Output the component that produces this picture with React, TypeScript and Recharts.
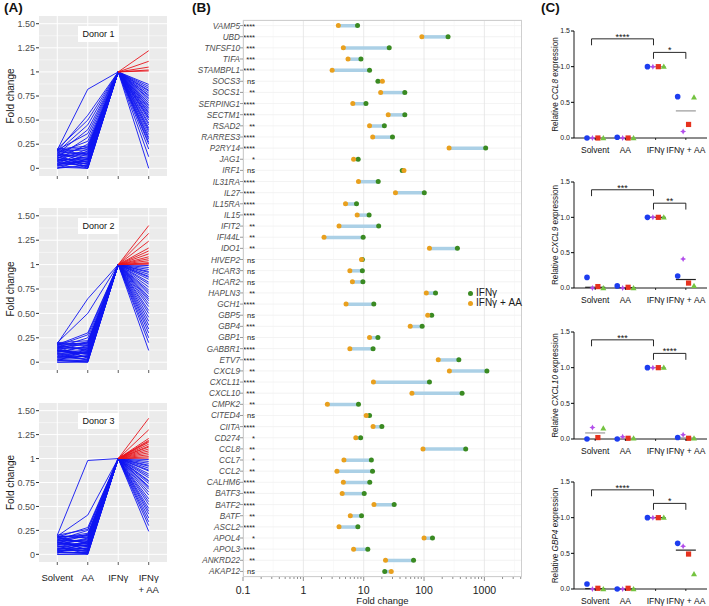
import React from 'react';
import {
  LineChart,
  Line,
  ComposedChart,
  Bar,
  ScatterChart,
  Scatter,
  XAxis,
  YAxis,
  CartesianGrid,
  ReferenceLine,
} from 'recharts';

const FONT = '"Liberation Sans", Arial, Helvetica, sans-serif';

// ---------- (A) fold change per gene, normalised to IFNγ ----------
const STAGES = ['Solvent', 'AA', 'IFNγ', 'IFNγ\n+ AA'];
const IFN_LEVEL = 1;
const A_TICKS = [0, 0.25, 0.5, 0.75, 1, 1.25, 1.5];
const A_TICK_LABELS = ['0', '0.25', '0.50', '0.75', '1', '1.25', '1.50'];
const A_MINOR = [0.125, 0.375, 0.625, 0.875, 1.125, 1.375];

const D1_SOLVENT = [0.19, 0.18, 0.2, 0.17, 0.15, 0.19, 0.12, 0.16, 0.1, 0.14, 0.08, 0.18, 0.05, 0.11, 0.03, 0.13, 0.07, 0, 0.09, 0.02, 0.16, 0.04, 0.12, 0.06, 0.01, 0.14, 0.1, 0, 0.08, 0.17, 0.05, 0.19, 0.13, 0.03, 0.09, 0.2, 0.15, 0.11, 0.07, 0.18, 0.04];
const D1_AA = [0.82, 0.55, 0.5, 0.45, 0.4, 0.36, 0.32, 0.28, 0.25, 0.22, 0.2, 0.19, 0.18, 0.16, 0.15, 0.13, 0.12, 0.1, 0.09, 0.08, 0.06, 0.05, 0.04, 0.02, 0, 0.01, 0, 0.03, 0.11, 0.14, 0.07, 0.21, 0.17, 0, 0.04, 0.23, 0.1, 0.06, 0.02, 0.15, 0.09];
const D1_IFN_AA = [0.87, 0.83, 0.8, 0.78, 0.75, 0.72, 0.7, 0.68, 0.65, 0.62, 0.6, 0.58, 0.55, 0.52, 0.5, 0.47, 0.45, 0.42, 0.4, 0.38, 0.35, 0.32, 0.3, 0.27, 0.25, 0.2, 0.12, 0, 0.85, 0.81, 0.76, 0.73, 0.66, 0.63, 0.57, 0.53, 1.22, 1.11, 1.05, 1.02, 1.01];

const D2_SOLVENT = [0.19, 0.2, 0.18, 0.17, 0.15, 0.2, 0.12, 0.16, 0.1, 0.14, 0.08, 0.18, 0.05, 0.11, 0.03, 0.13, 0.07, 0, 0.09, 0.02, 0.16, 0.04, 0.12, 0.06, 0.01, 0.19, 0.1, 0, 0.14, 0.08, 0.17, 0.05, 0.13, 0.19, 0.09, 0.02, 0.15, 0.11, 0.06, 0.18, 0.03, 0.12];
const D2_AA = [0.65, 0.5, 0.3, 0.28, 0.25, 0.22, 0.2, 0.18, 0.17, 0.15, 0.13, 0.12, 0.1, 0.08, 0.07, 0.05, 0.03, 0.01, 0.02, 0, 0.04, 0.06, 0.09, 0.11, 0.14, 0.19, 0.16, 0, 0.21, 0.1, 0.12, 0.03, 0.08, 0.17, 0.05, 0.02, 0.14, 0.09, 0.06, 0.2, 0.01, 0.11];
const D2_IFN_AA = [0.99, 0.97, 0.93, 0.9, 0.88, 0.85, 0.8, 0.77, 0.74, 0.7, 0.67, 0.63, 0.6, 0.57, 0.53, 0.5, 0.46, 0.42, 0.38, 0.34, 0.3, 0.25, 0.2, 0.12, 0.95, 0.92, 0.87, 0.82, 0.72, 0.65, 1.4, 1.32, 1.24, 1.17, 1.14, 1.11, 1.08, 1.06, 1.04, 1.02, 1.01, 1.005];

const D3_SOLVENT = [0.2, 0.19, 0.18, 0.2, 0.15, 0.17, 0.12, 0.16, 0.1, 0.14, 0.08, 0.18, 0.05, 0.11, 0.03, 0.13, 0.07, 0, 0.09, 0.02, 0.16, 0.04, 0.12, 0.06, 0.01, 0.19, 0.1, 0, 0.14, 0.17, 0.05, 0.13, 0.19, 0.09, 0.02, 0.15, 0.11, 0.06, 0.18, 0.03, 0.12, 0.08, 0.14, 0.04];
const D3_AA = [0.98, 0.41, 0.28, 0.26, 0.25, 0.22, 0.2, 0.18, 0.17, 0.15, 0.13, 0.11, 0.1, 0.08, 0.06, 0.05, 0.03, 0.01, 0, 0.02, 0.04, 0.07, 0.09, 0.12, 0.14, 0.19, 0.16, 0, 0.21, 0.12, 0.03, 0.08, 0.17, 0.05, 0.02, 0.14, 0.09, 0.06, 0.2, 0.01, 0.11, 0.1, 0.13, 0.04];
const D3_IFN_AA = [0.99, 0.95, 0.92, 0.9, 0.87, 0.84, 0.8, 0.77, 0.74, 0.71, 0.68, 0.65, 0.62, 0.58, 0.55, 0.52, 0.48, 0.45, 0.42, 0.38, 0.34, 0.3, 0.24, 0.97, 0.93, 0.88, 0.82, 0.76, 0.7, 1.42, 1.3, 1.21, 1.19, 1.18, 1.17, 1.15, 1.13, 1.12, 1.1, 1.08, 1.06, 1.04, 1.02, 1.005];

// ---------- (B) IFNγ vs IFNγ + AA, fold change ----------
const GENES = ['VAMP5', 'UBD', 'TNFSF10', 'TIFA', 'STAMBPL1', 'SOCS3', 'SOCS1', 'SERPING1', 'SECTM1', 'RSAD2', 'RARRES3', 'P2RY14', 'JAG1', 'IRF1', 'IL31RA', 'IL27', 'IL15RA', 'IL15', 'IFIT2', 'IFI44L', 'IDO1', 'HIVEP2', 'HCAR3', 'HCAR2', 'HAPLN3', 'GCH1', 'GBP5', 'GBP4', 'GBP1', 'GABBR1', 'ETV7', 'CXCL9', 'CXCL11', 'CXCL10', 'CMPK2', 'CITED4', 'CIITA', 'CD274', 'CCL8', 'CCL7', 'CCL2', 'CALHM6', 'BATF3', 'BATF2', 'BATF', 'ASCL2', 'APOL4', 'APOL3', 'ANKRD22', 'AKAP12'];
const SIG = ['****', '****', '***', '***', '****', 'ns', '**', '****', '****', '**', '****', '****', '*', 'ns', '****', '****', '****', '****', '**', '**', '**', 'ns', 'ns', 'ns', '**', '****', 'ns', '***', 'ns', '****', '****', '**', '****', '***', '**', 'ns', '****', '*', '**', '*', '**', '****', '****', '****', '**', '****', '*', '****', '**', 'ns'];
const FC_IFN = [7.9, 250, 26.5, 9, 12.5, 17.2, 48, 10.9, 48, 22, 30, 1050, 8.1, 43.5, 17.4, 101, 7.6, 12.3, 17.7, 9.8, 357, 9.5, 9.5, 9.7, 155, 14.7, 134, 93, 17.2, 14.3, 377, 1100, 123, 427, 8.2, 12.5, 20, 8.9, 490, 13.4, 14, 12.6, 10.2, 32, 9.2, 8, 138, 11.7, 67, 22.3];
const FC_IFN_AA = [3.8, 92, 4.6, 5.5, 3, 20.4, 19.1, 6.6, 25.5, 12.5, 14.1, 260, 6.8, 46.5, 8.2, 33.6, 5, 7.8, 3.9, 2.2, 123, 9.2, 5.9, 6.5, 109, 5.1, 115, 59, 12.5, 5.9, 172, 263, 14.5, 63, 2.5, 11, 14.3, 7.4, 96, 4.7, 3.6, 4.6, 4.4, 14.8, 6, 3.9, 100, 6.8, 23, 28.6];
const B_MAJOR = [0.1, 1, 10, 100, 1000];
const B_MAJOR_LABELS = ['0.1', '1', '10', '100', '1000'];
const B_AXIS_TICKS = [0.1, 0.2, 0.3, 0.4, 0.5, 0.6, 0.7, 0.8, 0.9, 1, 2, 3, 4, 5, 6, 7, 8, 9, 10, 20, 30, 40, 50, 60, 70, 80, 90, 100, 200, 300, 400, 500, 600, 700, 800, 900, 1000, 2000, 3000, 4000];
const B_MINOR_GRID = [0.316, 3.16, 31.6, 316, 3162];

// ---------- (C) qPCR, relative expression; rows: donor, cols: group ----------
const C_GROUPS = ['Solvent', 'AA', 'IFNγ', 'IFNγ + AA'];
const C_TICKS = [0, 0.5, 1, 1.5];
const C_TICK_LABELS = ['0.0', '0.5', '1.0', '1.5'];
// donor order: blue, purple, red, green
const CCL8_REL = [[0, 0.01, 1, 0.58], [0, 0, 1, 0.09], [0, 0, 1, 0.19], [0, 0, 1, 0.57]];
const CXCL9_REL = [[0.15, 0.03, 1, 0.17], [0, 0, 1, 0.41], [0.02, 0.01, 1, 0.07], [0, 0, 1, 0.03]];
const CXCL10_REL = [[0, 0, 1, 0.02], [0.16, 0.03, 1, 0.06], [0.02, 0.01, 1, 0.01], [0.15, 0.01, 1, 0.01]];
const GBP4_REL = [[0.07, 0, 1, 0.64], [0, 0, 1, 0.6], [0.01, 0.01, 1, 0.49], [0, 0, 1, 0.21]];
const CCL8_SIG = ['****', '*'];
const CXCL9_SIG = ['***', '**'];
const CXCL10_SIG = ['***', '****'];
const GBP4_SIG = ['****', '*'];
const BRACKETS = [
  { from: 0.88, to: 2.93, level: 1.39 },
  { from: 2.93, to: 4.0, level: 1.2 },
];
const BRACKET_DROP = 0.09;

const DONORS = [
  { kind: 'circle', color: '#1D3DF0', offset: -0.27 },
  { kind: 'star', color: '#B24DEB', offset: -0.09 },
  { kind: 'square', color: '#E6321E', offset: 0.09 },
  { kind: 'triangle', color: '#74C340', offset: 0.27 },
];

function VTitle({ viewBox, dx, size, children }: any) {
  const x = (viewBox?.x ?? 0) + dx;
  const y = (viewBox?.y ?? 0) + (viewBox?.height ?? 0) / 2;
  return (
    <text x={x} y={y} transform={`rotate(-90, ${x}, ${y})`} textAnchor="middle" dominantBaseline="central" fontSize={size} fill="#1A1A1A" fontFamily={FONT}>
      {children}
    </text>
  );
}

function StageTick({ x, y, payload, labels }: any) {
  const lines = STAGES[payload.value - 1].split('\n');
  return (
    <g>
      <line x1={x} x2={x} y1={y} y2={y + 3} stroke="#333" strokeWidth={0.8} />
      {labels &&
        lines.map((t, i) => (
          <text key={i} x={x} y={y + 19 + i * 12} textAnchor="middle" fontSize={9.5} fill="#1A1A1A" fontFamily={FONT}>
            {t}
          </text>
        ))}
    </g>
  );
}

function DonorPanel({ name, solvent, aa, combo, top, height, padTop, labels }: any) {
  // 'a' keys: Solvent -> AA -> IFNγ (always blue); 'b' keys: IFNγ -> IFNγ + AA (red when up)
  const data = STAGES.map((_, i) => {
    const row: Record<string, number | null> = { x: i + 1 };
    solvent.forEach((s: number, j: number) => {
      const v = [s, aa[j], IFN_LEVEL, combo[j]][i];
      row['a' + j] = i <= 2 ? v : null;
      row['b' + j] = i >= 2 ? v : null;
    });
    return row;
  });
  const order = combo.map((_: number, j: number) => j).sort((p: number, q: number) => Number(combo[p] > 1) - Number(combo[q] > 1));
  return (
    <div style={{ position: 'absolute', left: 0, top, width: 167, height }}>
      <LineChart width={167} height={height} data={data} margin={{ top: padTop, right: 0, bottom: 0, left: 0 }}>
        <CartesianGrid fill="#EBEBEB" stroke="#FFFFFF" strokeWidth={0.5} vertical={false} horizontalValues={A_MINOR} />
        <CartesianGrid stroke="#FFFFFF" strokeWidth={1} horizontalValues={A_TICKS} verticalValues={[1, 2, 3, 4]} />
        <XAxis
          type="number"
          dataKey="x"
          domain={[0.4, 4.6]}
          ticks={[1, 2, 3, 4]}
          interval={0}
          height={labels ? 44 : 14}
          axisLine={false}
          tickLine={false}
          tickSize={0}
          tickMargin={0}
          tick={<StageTick labels={labels} />}
        />
        <YAxis
          type="number"
          domain={[-0.08, 1.58]}
          allowDataOverflow
          ticks={A_TICKS}
          interval={0}
          width={39}
          axisLine={false}
          tickLine={{ stroke: '#333' }}
          tickSize={3}
          tickMargin={1}
          tick={{ fontSize: 9, fill: '#4D4D4D', fontFamily: FONT }}
          tickFormatter={(v: number) => A_TICK_LABELS[A_TICKS.indexOf(v)]}
          label={<VTitle dx={10} size={10}>Fold change</VTitle>}
        />
        {solvent.map((_: number, j: number) => (
          <Line
            key={'a' + j}
            dataKey={'a' + j}
            stroke="#0F14F2"
            strokeWidth={0.9}
            dot={false}
            activeDot={false}
            isAnimationActive={false}
          />
        ))}
        {order.map((j: number) => (
          <Line
            key={'b' + j}
            dataKey={'b' + j}
            stroke={combo[j] > 1 ? '#E8141C' : '#0F14F2'}
            strokeWidth={0.9}
            dot={false}
            activeDot={false}
            isAnimationActive={false}
          />
        ))}
      </LineChart>
      <div
        style={{
          position: 'absolute',
          left: 78,
          top: padTop + 10,
          width: 41,
          height: 16,
          background: '#FFFFFF',
          fontSize: 9,
          lineHeight: '16px',
          textAlign: 'center',
          color: '#111',
        }}
      >
        {name}
      </div>
    </div>
  );
}

function GeneTick({ x, y, payload }: any) {
  const i = GENES.indexOf(payload.value);
  return (
    <g fontFamily={FONT}>
      <line x1={x - 3} x2={x} y1={y} y2={y} stroke="#555" strokeWidth={0.6} />
      <text x={x - 3} y={y} dy={3} textAnchor="end" fontSize={8.2} fontStyle="italic" fill="#4D4D4D">
        {payload.value}
      </text>
      <text x={x + 12} y={y} dy={3} textAnchor="end" fontSize={7.5} fill="#222">
        {SIG[i]}
      </text>
    </g>
  );
}

function FoldTick({ x, y, payload }: any) {
  const k = B_MAJOR.indexOf(payload.value);
  return (
    <g>
      <line x1={x} x2={x} y1={y} y2={y + (k >= 0 ? 4 : 2)} stroke="#444" strokeWidth={0.6} />
      {k >= 0 && (
        <text x={x} y={y + 17} textAnchor="middle" fontSize={10.5} fill="#1A1A1A" fontFamily={FONT}>
          {B_MAJOR_LABELS[k]}
        </text>
      )}
    </g>
  );
}

function FoldTitle({ viewBox }: any) {
  return (
    <text x={viewBox.x + viewBox.width / 2} y={viewBox.y + 27} textAnchor="middle" fontSize={9.5} fill="#1A1A1A" fontFamily={FONT}>
      Fold change
    </text>
  );
}

function DumbbellPanel() {
  const data = GENES.map((gene, i) => ({
    gene,
    ifn: FC_IFN[i],
    ifnAA: FC_IFN_AA[i],
    span: [Math.min(FC_IFN[i], FC_IFN_AA[i]), Math.max(FC_IFN[i], FC_IFN_AA[i])],
  }));
  return (
    <div style={{ position: 'absolute', left: 160, top: 0, width: 370, height: 606 }}>
      <ComposedChart width={370} height={606} data={data} layout="vertical" margin={{ top: 20, right: 8, bottom: 0, left: 0 }}>
        <CartesianGrid stroke="#EBEBEB" strokeWidth={0.6} vertical={false} />
        <CartesianGrid stroke="#F3F3F3" strokeWidth={0.5} horizontal={false} verticalValues={B_MINOR_GRID} />
        <CartesianGrid stroke="#E3E3E3" strokeWidth={0.8} horizontal={false} verticalValues={B_MAJOR} />
        <XAxis
          type="number"
          scale="log"
          domain={[0.1, 4200]}
          allowDataOverflow
          ticks={B_AXIS_TICKS}
          interval={0}
          height={29}
          axisLine={false}
          tickLine={false}
          tickSize={0}
          tickMargin={0}
          tick={<FoldTick />}
          label={<FoldTitle />}
        />
        <YAxis
          type="category"
          dataKey="gene"
          width={83}
          interval={0}
          axisLine={false}
          tickLine={false}
          tickSize={0}
          tickMargin={0}
          tick={<GeneTick />}
        />
        <Bar dataKey="span" barSize={3.5} fill="#ABD0E6" isAnimationActive={false} />
        <Line dataKey="ifn" stroke="none" dot={{ r: 2.5, fill: '#3A8A22', stroke: 'none' }} activeDot={false} isAnimationActive={false} />
        <Line dataKey="ifnAA" stroke="none" dot={{ r: 2.5, fill: '#E9A01E', stroke: 'none' }} activeDot={false} isAnimationActive={false} />
      </ComposedChart>
      <div style={{ position: 'absolute', left: 83, top: 20, width: 279, height: 557, border: '1px solid #CFCFCF', boxSizing: 'border-box' }} />
      <div style={{ position: 'absolute', left: 308, top: 288, fontSize: 10, lineHeight: '10px', color: '#1A1A1A' }}>
        {[
          { label: 'IFNγ', color: '#3A8A22' },
          { label: 'IFNγ + AA', color: '#E9A01E' },
        ].map((it) => (
          <div key={it.label} style={{ display: 'flex', alignItems: 'center', height: 10 }}>
            <span style={{ width: 5, height: 5, borderRadius: 3, background: it.color, marginRight: 3, display: 'inline-block' }} />
            {it.label}
          </div>
        ))}
      </div>
    </div>
  );
}

function Marker({ cx, cy, kind, color }: any) {
  if (kind === 'circle') return <circle cx={cx} cy={cy} r={2.8} fill={color} />;
  if (kind === 'square') return <rect x={cx - 2.6} y={cy - 2.6} width={5.2} height={5.2} fill={color} />;
  if (kind === 'star')
    return (
      <path
        d={`M${cx},${cy - 3}L${cx + 1},${cy - 1}L${cx + 3},${cy}L${cx + 1},${cy + 1}L${cx},${cy + 3}L${cx - 1},${cy + 1}L${cx - 3},${cy}L${cx - 1},${cy - 1}Z`}
        fill={color}
      />
    );
  return <path d={`M${cx},${cy - 3.1}L${cx + 3},${cy + 2.2}L${cx - 3},${cy + 2.2}Z`} fill={color} />;
}

function GroupTick({ x, y, payload }: any) {
  return (
    <g>
      <line x1={x} x2={x} y1={y} y2={y + 2} stroke="#000" strokeWidth={0.8} />
      <text x={x} y={y + 15} textAnchor="middle" fontSize={8.5} fill="#111" fontFamily={FONT}>
        {C_GROUPS[payload.value - 1]}
      </text>
    </g>
  );
}

function median(values: number[]) {
  const s = [...values].sort((a, b) => a - b);
  return (s[1] + s[2]) / 2;
}

function ExpressionPanel({ gene, values, sig, top, height, padTop, medianColor }: any) {
  const medians = C_GROUPS.map((_, g) => ({ x: g + 1, y: median(values.map((v: number[]) => v[g])) }));
  return (
    <div style={{ position: 'absolute', left: 540, top, width: 169, height }}>
      <ScatterChart width={169} height={height} margin={{ top: padTop, right: 2, bottom: 0, left: 0 }}>
        <XAxis
          type="number"
          dataKey="x"
          domain={[0.3, 4.7]}
          ticks={[1, 2, 3, 4]}
          interval={0}
          height={20}
          axisLine={{ stroke: '#000', strokeWidth: 0.9 }}
          tickLine={false}
          tickSize={0}
          tickMargin={0}
          tick={<GroupTick />}
        />
        <YAxis
          type="number"
          dataKey="y"
          domain={[0, 1.5]}
          ticks={C_TICKS}
          interval={0}
          width={34}
          axisLine={{ stroke: '#000', strokeWidth: 0.9 }}
          tickLine={{ stroke: '#000' }}
          tickSize={3}
          tickMargin={1}
          tick={{ fontSize: 7, fill: '#222', fontFamily: FONT }}
          tickFormatter={(v: number) => C_TICK_LABELS[C_TICKS.indexOf(v)]}
          label={
            <VTitle dx={15} size={8.2}>
              Relative <tspan fontStyle="italic">{gene}</tspan> expression
            </VTitle>
          }
        />
        {BRACKETS.map((b, i) => (
          <ReferenceLine
            key={'h' + i}
            segment={[
              { x: b.from, y: b.level },
              { x: b.to, y: b.level },
            ]}
            stroke="#111"
            strokeWidth={0.9}
            label={{ value: sig[i], position: 'top', offset: -1, fontSize: 9, fill: '#111' }}
          />
        ))}
        {BRACKETS.flatMap((b, i) =>
          [b.from, b.to].map((xv, k) => (
            <ReferenceLine
              key={'v' + i + k}
              segment={[
                { x: xv, y: b.level },
                { x: xv, y: b.level - BRACKET_DROP },
              ]}
              stroke="#111"
              strokeWidth={0.9}
            />
          )),
        )}
        <Scatter
          data={medians}
          isAnimationActive={false}
          shape={(p: any) => <line x1={p.cx - 10} x2={p.cx + 10} y1={p.cy} y2={p.cy} stroke={medianColor} strokeWidth={1.2} />}
        />
        {DONORS.map((d, k) => (
          <Scatter
            key={k}
            data={values[k].map((y: number, g: number) => ({ x: g + 1 + d.offset, y }))}
            isAnimationActive={false}
            shape={(p: any) => <Marker cx={p.cx} cy={p.cy} kind={d.kind} color={d.color} />}
          />
        ))}
      </ScatterChart>
    </div>
  );
}

const panelLabel = (left: number): React.CSSProperties => ({
  position: 'absolute',
  left,
  top: 0,
  fontSize: 13.5,
  fontWeight: 'bold',
  color: '#111',
});

export default function App() {
  return (
    <div
      style={{
        position: 'absolute',
        left: 0,
        top: 0,
        width: 709,
        height: 606,
        overflow: 'hidden',
        background: '#FFFFFF',
        fontFamily: FONT,
      }}
    >
      <DonorPanel name="Donor 1" solvent={D1_SOLVENT} aa={D1_AA} combo={D1_IFN_AA} top={0} height={190} padTop={16} labels={false} />
      <DonorPanel name="Donor 2" solvent={D2_SOLVENT} aa={D2_AA} combo={D2_IFN_AA} top={190} height={194} padTop={18} labels={false} />
      <DonorPanel name="Donor 3" solvent={D3_SOLVENT} aa={D3_AA} combo={D3_IFN_AA} top={390} height={216} padTop={13} labels />
      <DumbbellPanel />
      <ExpressionPanel gene="CCL8" values={CCL8_REL} sig={CCL8_SIG} top={0} height={158} padTop={31} medianColor="#9A9A9A" />
      <ExpressionPanel gene="CXCL9" values={CXCL9_REL} sig={CXCL9_SIG} top={150} height={158} padTop={32} medianColor="#222" />
      <ExpressionPanel gene="CXCL10" values={CXCL10_REL} sig={CXCL10_SIG} top={300} height={159} padTop={32} medianColor="#9A9A9A" />
      <ExpressionPanel gene="GBP4" values={GBP4_REL} sig={GBP4_SIG} top={450} height={159} padTop={32} medianColor="#222" />
      <div style={panelLabel(4)}>(A)</div>
      <div style={panelLabel(192)}>(B)</div>
      <div style={panelLabel(541)}>(C)</div>
    </div>
  );
}
